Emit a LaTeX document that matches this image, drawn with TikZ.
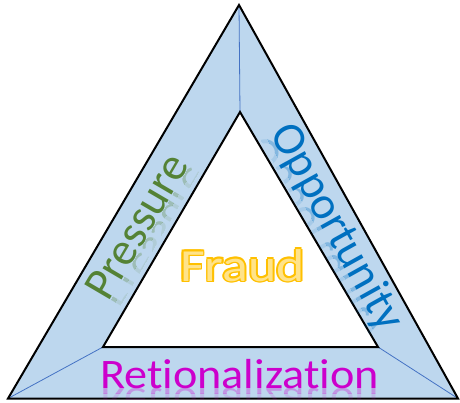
\documentclass[tikz,border=0pt]{standalone}
\usepackage{fontspec}
\setmainfont{Carlito}[Ligatures=NoCommon]
\usetikzlibrary{calc}
\definecolor{bandfill}{HTML}{BDD7EE}
\definecolor{spoke}{HTML}{4472C4}
\definecolor{presg}{HTML}{548235}
\definecolor{oppb}{HTML}{0070C0}
\definecolor{ratm}{HTML}{CC00CC}
\definecolor{fraudo}{HTML}{FFC000}
\definecolor{fraudi}{HTML}{FFE38A}
\tikzset{
  lbl/.style={anchor=base, transform shape, inner sep=0pt},
  fraudtxt/.style={anchor=base, inner sep=0pt, xscale=1.17, transform shape, font=\fontsize{46}{46}\selectfont},
}
% #1 name, #2 point, #3 angle, #4 colour, #5 size, #6 text, #7 xscale
\newcommand\bandtext[7]{%
  \begin{scope}[shift={#2}, rotate=#3]
    \begin{scope}
      \clip (-260,0) rectangle (260,5);
      \node[lbl, xscale=#7, yscale=-1, text=#4, text opacity=0.3, font=\fontsize{#5}{#5}\selectfont] (#1r1) at (0,0) {#6};
    \end{scope}
    \begin{scope}
      \clip (-260,5) rectangle (260,11);
      \node[lbl, xscale=#7, yscale=-1, text=#4, text opacity=0.12, font=\fontsize{#5}{#5}\selectfont] (#1r2) at (0,0) {#6};
    \end{scope}
    \node[lbl, xscale=#7, text=#4, font=\fontsize{#5}{#5}\selectfont] (#1) at (0,0) {#6};
  \end{scope}}
\begin{document}
\begin{tikzpicture}[x=1pt,y=-1pt]
\useasboundingbox (0,0) rectangle (460,403);
\coordinate (OT) at (239,5);
\coordinate (OL) at (8,398.5);
\coordinate (OR) at (458,398.5);
\coordinate (IT) at (240,112);
\coordinate (IL) at (103,347);
\coordinate (IR) at (378,347);
\fill[bandfill, even odd rule] (OT)--(OL)--(OR)--cycle (IT)--(IL)--(IR)--cycle;
\draw[spoke, line width=0.8pt] (OT)--(IT) (OL)--(IL) (OR)--(IR);
\draw[black, line width=2pt, line join=miter] (OT)--(OL)--(OR)--cycle;
\draw[black, line width=2pt, line join=miter] (IT)--(IL)--(IR)--cycle;
\bandtext{pres}{(149.4,233.7)}{59.6}{presg}{46}{Pressure}{1.0}
\bandtext{opp}{(325.4,233.7)}{-60.9}{oppb}{46}{Opportunity}{1.0}
\bandtext{rat}{(239.5,388.5)}{0}{ratm}{42}{Retionalization}{1.1}
\foreach \a [count=\i] in {0,45,...,315}{
  \node[fraudtxt, text=fraudo] (fo\i) at ($(242.5,281)+(\a:1.7)$) {Fraud};
}
\node[fraudtxt, text=fraudi] (fraud) at (242.5,281) {Fraud};
\end{tikzpicture}
\end{document}
